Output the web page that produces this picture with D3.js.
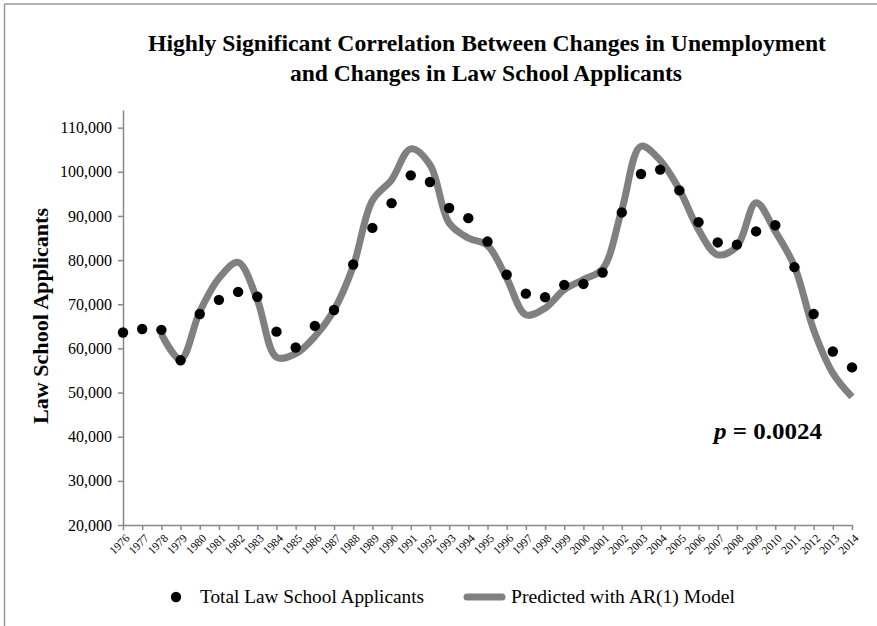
<!DOCTYPE html>
<html>
<head>
<meta charset="utf-8">
<script src="https://cdn.jsdelivr.net/npm/d3@7"></script>
<style>
  body { margin: 0; background: #fff; }
  svg { display: block; }
  text { font-family: "Liberation Serif", "DejaVu Serif", serif; fill: #000; }
</style>
</head>
<body>
<svg id="chart"></svg>
<script>
const WIDTH = 877;
const HEIGHT = 626;

// Years on the x axis
const years = d3.range(1976, 2015);

// Total law school applicants (dots)
const applicants = [
    63600, 64400, 64200, 57300, 67800, 71000, 72800, 71700, 63800, 60200,
    65100, 68700, 79000, 87300, 92900, 99200, 97700, 91800, 89500, 84200,
    76700, 72400, 71600, 74400, 74600, 77200, 90800, 99500, 100500, 95800,
    88600, 84000, 83500, 86500, 87900, 78400, 67800, 59300, 55700
];

// Predicted with AR(1) model (starts in 1978)
const predicted = [
    null, null, 63300, 57500, 68300, 75900, 79500, 71000, 58000, 58800,
    62700, 68700, 78600, 93500, 98200, 105200, 101600, 88400, 85000, 83300,
    75900, 67600, 69100, 73300, 75600, 78000, 91400, 105800, 102600, 96000,
    86900, 81200, 83100, 93000, 86500, 78600, 64200, 54400, 49000
];

const yTicks = d3.range(20000, 110001, 10000);

const titleLines = [
    'Highly Significant Correlation Between Changes in Unemployment',
    'and Changes in Law School Applicants'
];

function makeChart() {
    let svg = d3.select('#chart')
        .attr('width', WIDTH)
        .attr('height', HEIGHT);

    // frame (only top and left edges show)
    svg.append('line')
        .attr('x1', 4.5).attr('y1', 4).attr('x2', WIDTH).attr('y2', 4)
        .attr('stroke', '#999').attr('stroke-width', 1.5);
    svg.append('line')
        .attr('x1', 4.5).attr('y1', 4).attr('x2', 4.5).attr('y2', HEIGHT)
        .attr('stroke', '#999').attr('stroke-width', 1.5);

    let x = d3.scaleLinear()
        .domain([1976, 2014])
        .range([123, 852]);
    let y = d3.scaleLinear()
        .domain([20000, 114000])
        .range([525, 110]);

    // title
    svg.append('text')
        .attr('x', 487).attr('y', 51)
        .attr('text-anchor', 'middle')
        .style('font-size', '24px').style('font-weight', 'bold')
        .attr('textLength', 678).attr('lengthAdjust', 'spacingAndGlyphs')
        .text(titleLines[0]);
    svg.append('text')
        .attr('x', 486).attr('y', 81)
        .attr('text-anchor', 'middle')
        .style('font-size', '24px').style('font-weight', 'bold')
        .attr('textLength', 392).attr('lengthAdjust', 'spacingAndGlyphs')
        .text(titleLines[1]);

    // y axis
    let yAxis = d3.axisLeft(y)
        .tickValues(yTicks)
        .tickSize(5)
        .tickSizeOuter(0)
        .tickPadding(6)
        .tickFormat(d3.format(','));
    let gy = svg.append('g')
        .attr('transform', 'translate(123,0)')
        .call(yAxis);
    gy.select('.domain').attr('stroke', '#888').attr('stroke-width', 1.5);
    gy.selectAll('.tick line').attr('stroke', '#888').attr('stroke-width', 1.5);
    gy.selectAll('.tick text')
        .style('font-size', '16px')
        .style('font-family', '"Liberation Serif", serif');

    // x axis
    let xAxis = d3.axisBottom(x)
        .tickValues(years)
        .tickSize(5)
        .tickSizeOuter(0)
        .tickFormat(d => d);
    let gx = svg.append('g')
        .attr('transform', 'translate(0,525)')
        .call(xAxis);
    gx.select('.domain').attr('stroke', '#888').attr('stroke-width', 1.5);
    gx.selectAll('.tick line').attr('stroke', '#888').attr('stroke-width', 1.5);
    gx.selectAll('.tick text')
        .attr('x', 0).attr('y', 0).attr('dy', '0.35em')
        .attr('text-anchor', 'end')
        .attr('transform', 'translate(4,11) rotate(-45)')
        .style('font-size', '11.5px')
        .style('font-family', '"Liberation Serif", serif');

    // y axis title
    svg.append('text')
        .attr('transform', 'translate(48,316) rotate(-90)')
        .attr('text-anchor', 'middle')
        .style('font-size', '21px').style('font-weight', 'bold')
        .attr('textLength', 216).attr('lengthAdjust', 'spacingAndGlyphs')
        .text('Law School Applicants');

    // predicted line
    let predData = years.map((yr, i) => ({ year: yr, value: predicted[i] }))
        .filter(d => d.value != null);
    let line = d3.line()
        .x(d => x(d.year))
        .y(d => y(d.value))
        .curve(d3.curveCatmullRom.alpha(0.5));
    svg.append('path')
        .datum(predData)
        .attr('fill', 'none')
        .attr('stroke', '#808080')
        .attr('stroke-width', 7)
        .attr('stroke-linejoin', 'round')
        .attr('d', line);

    // applicant dots
    svg.selectAll('.dot')
        .data(years.map((yr, i) => ({ year: yr, value: applicants[i] })))
        .enter().append('circle')
        .attr('class', 'dot')
        .attr('cx', d => x(d.year))
        .attr('cy', d => y(d.value))
        .attr('r', 5.2)
        .attr('fill', '#000');

    // p value
    let p = svg.append('text')
        .attr('x', 714).attr('y', 439)
        .style('font-size', '24px').style('font-weight', 'bold')
        .attr('textLength', 108).attr('lengthAdjust', 'spacingAndGlyphs');
    p.append('tspan').style('font-style', 'italic').text('p');
    p.append('tspan').text(' = 0.0024');

    // legend
    let legend = svg.append('g');
    legend.append('circle')
        .attr('cx', 176).attr('cy', 597).attr('r', 5.2).attr('fill', '#000');
    legend.append('text')
        .attr('x', 200).attr('y', 603)
        .style('font-size', '19px')
        .attr('textLength', 224).attr('lengthAdjust', 'spacingAndGlyphs')
        .text('Total Law School Applicants');
    legend.append('line')
        .attr('x1', 467).attr('x2', 502).attr('y1', 597).attr('y2', 597)
        .attr('stroke', '#808080').attr('stroke-width', 7)
        .attr('stroke-linecap', 'round');
    legend.append('text')
        .attr('x', 511).attr('y', 603)
        .style('font-size', '19px')
        .attr('textLength', 224).attr('lengthAdjust', 'spacingAndGlyphs')
        .text('Predicted with AR(1) Model');
}

makeChart();
</script>
</body>
</html>
